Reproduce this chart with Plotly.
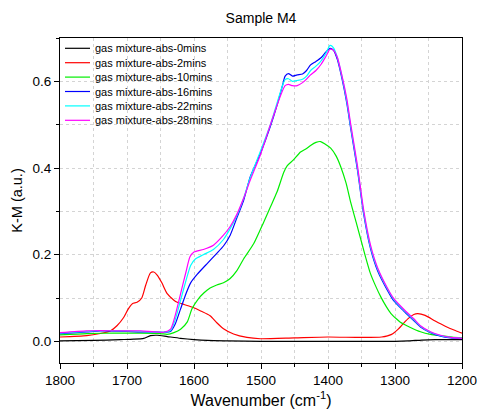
import plotly.graph_objects as go

# ---------------- data ----------------
names = ["gas mixture-abs-0mins", "gas mixture-abs-2mins", "gas mixture-abs-10mins",
         "gas mixture-abs-16mins", "gas mixture-abs-22mins", "gas mixture-abs-28mins"]
colors = ["#000000", "#ff0000", "#00ee00", "#0000ff", "#00ffff", "#ff00ff"]

wn_0 = [1800, 1750, 1710, 1690, 1675, 1665, 1655, 1640, 1620, 1600, 1580, 1550, 1500,
        1400, 1300, 1280, 1260, 1240, 1200]
km_0 = [0.001, 0.002, 0.004, 0.005, 0.007, 0.013, 0.014, 0.011, 0.007, 0.004, 0.002, 0.001, 0.0,
        0.0, 0.0, 0.001, 0.003, 0.004, 0.004]

wn_2 = [1800, 1760, 1740, 1725, 1715, 1705, 1698, 1692, 1685, 1678, 1672, 1665, 1660, 1655,
        1648, 1640, 1630, 1625, 1615, 1601, 1590, 1576, 1566, 1556, 1541, 1521, 1501, 1450,
        1400, 1350, 1320, 1305, 1296, 1287, 1280, 1272, 1266, 1255, 1240, 1225, 1210, 1200]
km_2 = [0.010, 0.013, 0.018, 0.024, 0.036, 0.055, 0.075, 0.087, 0.090, 0.100, 0.130, 0.158, 0.160, 0.153,
        0.135, 0.110, 0.095, 0.090, 0.085, 0.078, 0.070, 0.059, 0.043, 0.029, 0.017, 0.009, 0.006, 0.008,
        0.010, 0.009, 0.010, 0.016, 0.027, 0.042, 0.053, 0.062, 0.064, 0.060, 0.047, 0.035, 0.025, 0.019]

wn_10 = [1800, 1760, 1720, 1680, 1650, 1640, 1630, 1620, 1610, 1603, 1594, 1585, 1576, 1566, 1556,
         1546, 1536, 1526, 1511, 1496, 1486, 1476, 1466, 1461, 1452, 1441, 1432, 1426, 1418, 1411,
         1404, 1396, 1388, 1381, 1373, 1366, 1358, 1351, 1344, 1337, 1329, 1321, 1313, 1306, 1298,
         1292, 1277, 1262, 1247, 1232, 1215, 1200]
km_10 = [0.015, 0.018, 0.019, 0.019, 0.018, 0.016, 0.020, 0.028, 0.045, 0.075, 0.097, 0.112, 0.123, 0.130, 0.135,
         0.145, 0.163, 0.190, 0.225, 0.275, 0.310, 0.345, 0.390, 0.405, 0.418, 0.437, 0.445, 0.452, 0.459, 0.461,
         0.455, 0.446, 0.428, 0.403, 0.365, 0.320, 0.275, 0.235, 0.195, 0.158, 0.128, 0.102, 0.080, 0.064, 0.052,
         0.044, 0.032, 0.022, 0.016, 0.013, 0.010, 0.008]

wn_16 = [1800, 1760, 1740, 1700, 1680, 1660, 1645, 1635, 1628, 1620, 1612, 1605, 1595, 1580, 1566,
         1556, 1546, 1536, 1526, 1516, 1501, 1486, 1476, 1468, 1464, 1459, 1453, 1446, 1438, 1432,
         1426, 1418, 1410, 1403, 1397, 1392, 1386, 1379, 1372, 1366, 1356, 1347, 1337, 1326, 1311,
         1302, 1287, 1272, 1262, 1247, 1232, 1217, 1200]
km_16 = [0.018, 0.022, 0.024, 0.023, 0.022, 0.022, 0.021, 0.023, 0.040, 0.075, 0.110, 0.135, 0.155, 0.180, 0.203,
         0.220, 0.245, 0.285, 0.325, 0.380, 0.433, 0.496, 0.545, 0.590, 0.612, 0.618, 0.612, 0.615, 0.617, 0.625,
         0.638, 0.646, 0.655, 0.668, 0.676, 0.672, 0.650, 0.605, 0.550, 0.490, 0.395, 0.296, 0.217, 0.163, 0.117,
         0.094, 0.070, 0.048, 0.033, 0.020, 0.012, 0.008, 0.006]

wn_22 = [1800, 1760, 1740, 1700, 1680, 1660, 1645, 1635, 1628, 1620, 1612, 1605, 1598, 1586, 1571,
         1556, 1546, 1536, 1526, 1516, 1501, 1486, 1476, 1468, 1464, 1459, 1453, 1446, 1438, 1432,
         1426, 1418, 1410, 1403, 1397, 1392, 1386, 1379, 1372, 1366, 1356, 1347, 1337, 1326, 1311,
         1302, 1287, 1272, 1262, 1247, 1232, 1217, 1200]
km_22 = [0.019, 0.023, 0.025, 0.024, 0.023, 0.022, 0.021, 0.025, 0.050, 0.095, 0.140, 0.175, 0.190, 0.200, 0.212,
         0.235, 0.260, 0.290, 0.330, 0.378, 0.438, 0.500, 0.550, 0.590, 0.604, 0.606, 0.600, 0.602, 0.605, 0.612,
         0.625, 0.635, 0.648, 0.665, 0.683, 0.678, 0.655, 0.610, 0.555, 0.495, 0.400, 0.300, 0.221, 0.167, 0.120,
         0.097, 0.072, 0.050, 0.035, 0.021, 0.013, 0.009, 0.007]

wn_28 = [1800, 1760, 1740, 1700, 1680, 1660, 1645, 1635, 1628, 1620, 1612, 1606, 1600, 1586, 1571,
         1556, 1546, 1536, 1526, 1516, 1501, 1486, 1476, 1468, 1464, 1459, 1453, 1446, 1438, 1432,
         1426, 1418, 1410, 1403, 1397, 1392, 1386, 1379, 1372, 1366, 1356, 1347, 1337, 1326, 1311,
         1302, 1287, 1272, 1262, 1247, 1232, 1217, 1200]
km_28 = [0.020, 0.024, 0.025, 0.024, 0.024, 0.022, 0.021, 0.028, 0.060, 0.110, 0.160, 0.195, 0.206, 0.212, 0.222,
         0.245, 0.265, 0.293, 0.330, 0.372, 0.430, 0.500, 0.545, 0.578, 0.590, 0.593, 0.590, 0.590, 0.597, 0.605,
         0.615, 0.625, 0.640, 0.658, 0.674, 0.672, 0.655, 0.612, 0.560, 0.500, 0.405, 0.305, 0.225, 0.170, 0.122,
         0.099, 0.074, 0.052, 0.036, 0.022, 0.014, 0.009, 0.007]

x_ticks = [1800, 1700, 1600, 1500, 1400, 1300, 1200]
y_ticks = [0.0, 0.2, 0.4, 0.6]

series_x = [wn_0, wn_2, wn_10, wn_16, wn_22, wn_28]
series_y = [km_0, km_2, km_10, km_16, km_22, km_28]

# ---------------- figure ----------------
FONT = "Liberation Sans, Arial, sans-serif"
fig = go.Figure()
for nm, c, xs, ys in zip(names, colors, series_x, series_y):
    fig.add_trace(go.Scatter(x=xs, y=ys, mode="lines", name=nm,
                             line=dict(color=c, width=1.2, shape="spline", smoothing=0.6),
                             showlegend=False))

# compact legend (top-left, inside the plot)
L, R, T, B = 60, 15, 38, 51
W, H = 477, 414
pw, ph = W - L - R, H - T - B
for i, (nm, c) in enumerate(zip(names, colors)):
    yc = 48.3 + i * 14.4
    yp = (H - B - yc) / ph
    fig.add_shape(type="line", xref="paper", yref="paper",
                  x0=(65 - L) / pw, x1=(90 - L) / pw, y0=yp, y1=yp,
                  line=dict(color=c, width=1.2))
    fig.add_annotation(xref="paper", yref="paper", x=(93 - L) / pw, y=yp,
                       xanchor="left", yanchor="middle", showarrow=False,
                       text=nm, font=dict(family=FONT, size=11, color="black"))

grid = dict(color="#d4d4d4", dash="dot")
fig.update_layout(
    width=W, height=H,
    margin=dict(l=L, r=R, t=T, b=B, autoexpand=False),
    paper_bgcolor="white", plot_bgcolor="white",
    font=dict(family=FONT, color="black", size=13),
    title=dict(text="Sample M4", x=0.5, xref="paper", xanchor="center",
               y=1 - 18 / H, yanchor="middle", font=dict(size=14, family=FONT)),
)
fig.update_xaxes(
    range=[1800, 1200], tickvals=x_ticks, ticktext=[str(v) for v in x_ticks],
    ticks="outside", ticklen=5, tickcolor="black", tickwidth=1,
    showline=True, linecolor="black", linewidth=1, mirror=True,
    showgrid=True, gridcolor=grid["color"], griddash=grid["dash"], gridwidth=1,
    zeroline=False, tickfont=dict(size=13.5), automargin=False, ticklabeloverflow="allow",
    minor=dict(dtick=50, tick0=1200, ticks="outside", ticklen=3, tickcolor="black",
               showgrid=True, gridcolor=grid["color"], griddash=grid["dash"]),
    title=dict(text="Wavenumber (cm<sup>-1</sup>)", font=dict(size=16), standoff=7),
)
fig.update_yaxes(
    range=[-0.05, 0.70], tickvals=y_ticks, ticktext=[f"{v:.1f}" for v in y_ticks],
    ticks="outside", ticklen=5, tickcolor="black", tickwidth=1,
    showline=True, linecolor="black", linewidth=1, mirror=True,
    showgrid=True, gridcolor=grid["color"], griddash=grid["dash"], gridwidth=1,
    zeroline=False, tickfont=dict(size=13.5), automargin=False, ticklabeloverflow="allow",
    minor=dict(dtick=0.1, tick0=0, ticks="outside", ticklen=3, tickcolor="black",
               showgrid=True, gridcolor=grid["color"], griddash=grid["dash"]),
    title=dict(text="K-M (a.u.)", font=dict(size=14.5), standoff=6),
)

fig.write_html("out.html", config={"displayModeBar": False},
               post_script="document.body.style.margin='0';document.body.style.overflow='hidden';")
